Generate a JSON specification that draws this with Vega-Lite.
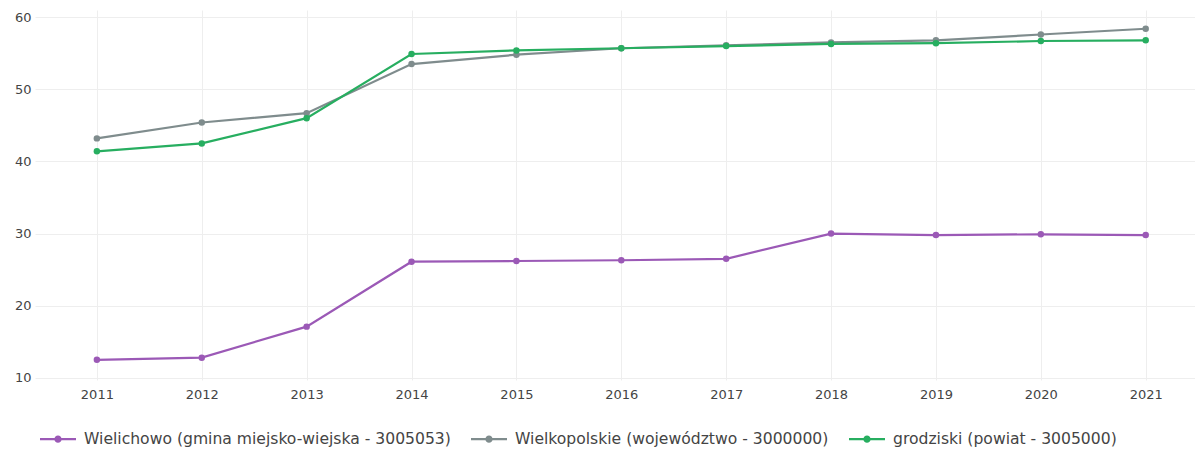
{
  "$schema": "https://vega.github.io/schema/vega-lite/v6.json",
  "width": 1160,
  "height": 370,
  "autosize": {"type": "none"},
  "padding": {"left": 35, "top": 10, "right": 0, "bottom": 70},
  "background": "white",
  "config": {
    "view": {"stroke": null},
    "font": "DejaVu Sans",
    "axis": {"labelFont": "DejaVu Sans", "labelFontSize": 13, "labelColor": "#444", "gridColor": "#eeeeee", "gridWidth": 1, "domain": false, "ticks": false}
  },
  "data": {
    "values": [
      {"rok": 2011, "seria": "Wielichowo (gmina miejsko-wiejska - 3005053)", "wartosc": 12.5},
      {"rok": 2012, "seria": "Wielichowo (gmina miejsko-wiejska - 3005053)", "wartosc": 12.8},
      {"rok": 2013, "seria": "Wielichowo (gmina miejsko-wiejska - 3005053)", "wartosc": 17.1},
      {"rok": 2014, "seria": "Wielichowo (gmina miejsko-wiejska - 3005053)", "wartosc": 26.1},
      {"rok": 2015, "seria": "Wielichowo (gmina miejsko-wiejska - 3005053)", "wartosc": 26.2},
      {"rok": 2016, "seria": "Wielichowo (gmina miejsko-wiejska - 3005053)", "wartosc": 26.3},
      {"rok": 2017, "seria": "Wielichowo (gmina miejsko-wiejska - 3005053)", "wartosc": 26.5},
      {"rok": 2018, "seria": "Wielichowo (gmina miejsko-wiejska - 3005053)", "wartosc": 30.0},
      {"rok": 2019, "seria": "Wielichowo (gmina miejsko-wiejska - 3005053)", "wartosc": 29.8},
      {"rok": 2020, "seria": "Wielichowo (gmina miejsko-wiejska - 3005053)", "wartosc": 29.9},
      {"rok": 2021, "seria": "Wielichowo (gmina miejsko-wiejska - 3005053)", "wartosc": 29.8},
      {"rok": 2011, "seria": "Wielkopolskie (województwo - 3000000)", "wartosc": 43.2},
      {"rok": 2012, "seria": "Wielkopolskie (województwo - 3000000)", "wartosc": 45.4},
      {"rok": 2013, "seria": "Wielkopolskie (województwo - 3000000)", "wartosc": 46.7},
      {"rok": 2014, "seria": "Wielkopolskie (województwo - 3000000)", "wartosc": 53.5},
      {"rok": 2015, "seria": "Wielkopolskie (województwo - 3000000)", "wartosc": 54.8},
      {"rok": 2016, "seria": "Wielkopolskie (województwo - 3000000)", "wartosc": 55.7},
      {"rok": 2017, "seria": "Wielkopolskie (województwo - 3000000)", "wartosc": 56.1},
      {"rok": 2018, "seria": "Wielkopolskie (województwo - 3000000)", "wartosc": 56.5},
      {"rok": 2019, "seria": "Wielkopolskie (województwo - 3000000)", "wartosc": 56.8},
      {"rok": 2020, "seria": "Wielkopolskie (województwo - 3000000)", "wartosc": 57.6},
      {"rok": 2021, "seria": "Wielkopolskie (województwo - 3000000)", "wartosc": 58.4},
      {"rok": 2011, "seria": "grodziski (powiat - 3005000)", "wartosc": 41.4},
      {"rok": 2012, "seria": "grodziski (powiat - 3005000)", "wartosc": 42.5},
      {"rok": 2013, "seria": "grodziski (powiat - 3005000)", "wartosc": 46.0},
      {"rok": 2014, "seria": "grodziski (powiat - 3005000)", "wartosc": 54.9},
      {"rok": 2015, "seria": "grodziski (powiat - 3005000)", "wartosc": 55.4},
      {"rok": 2016, "seria": "grodziski (powiat - 3005000)", "wartosc": 55.7},
      {"rok": 2017, "seria": "grodziski (powiat - 3005000)", "wartosc": 56.0},
      {"rok": 2018, "seria": "grodziski (powiat - 3005000)", "wartosc": 56.3},
      {"rok": 2019, "seria": "grodziski (powiat - 3005000)", "wartosc": 56.4},
      {"rok": 2020, "seria": "grodziski (powiat - 3005000)", "wartosc": 56.7},
      {"rok": 2021, "seria": "grodziski (powiat - 3005000)", "wartosc": 56.8}
    ]
  },
  "encoding": {
    "x": {
      "field": "rok", "type": "quantitative",
      "scale": {"domain": [2010.41, 2021.47], "nice": false, "zero": false},
      "axis": {"title": null, "values": [2011,2012,2013,2014,2015,2016,2017,2018,2019,2020,2021], "format": "d", "labelPadding": 8}
    },
    "y": {
      "field": "wartosc", "type": "quantitative",
      "scale": {"domain": [9.7, 61], "nice": false, "zero": false},
      "axis": {"title": null, "values": [10,20,30,40,50,60], "labelPadding": 4}
    },
    "color": {
      "field": "seria", "type": "nominal",
      "scale": {
        "domain": ["Wielichowo (gmina miejsko-wiejska - 3005053)", "Wielkopolskie (województwo - 3000000)", "grodziski (powiat - 3005000)"],
        "range": ["#9b59b6", "#7f8c8d", "#27ae60"]
      },
      "legend": {
        "title": null,
        "orient": "none",
        "direction": "horizontal",
        "legendX": 5,
        "legendY": 411,
        "columns": 3,
        "columnPadding": 20,
        "symbolType": "M-1,-0.06 L1,-0.06 L1,0.06 L-1,0.06 Z M0.2,0 A0.2,0.2 0 1,1 -0.2,0 A0.2,0.2 0 1,1 0.2,0 Z",
        "symbolSize": 1296,
        "symbolStrokeWidth": 0,
        "symbolOpacity": 1,
        "labelFont": "DejaVu Sans",
        "labelFontSize": 15.6,
        "labelColor": "#444",
        "labelLimit": 500,
        "labelOffset": 8
      }
    }
  },
  "layer": [
    {"mark": {"type": "line", "strokeWidth": 2.2}},
    {"mark": {"type": "point", "filled": true, "size": 42, "opacity": 1}}
  ]
}
